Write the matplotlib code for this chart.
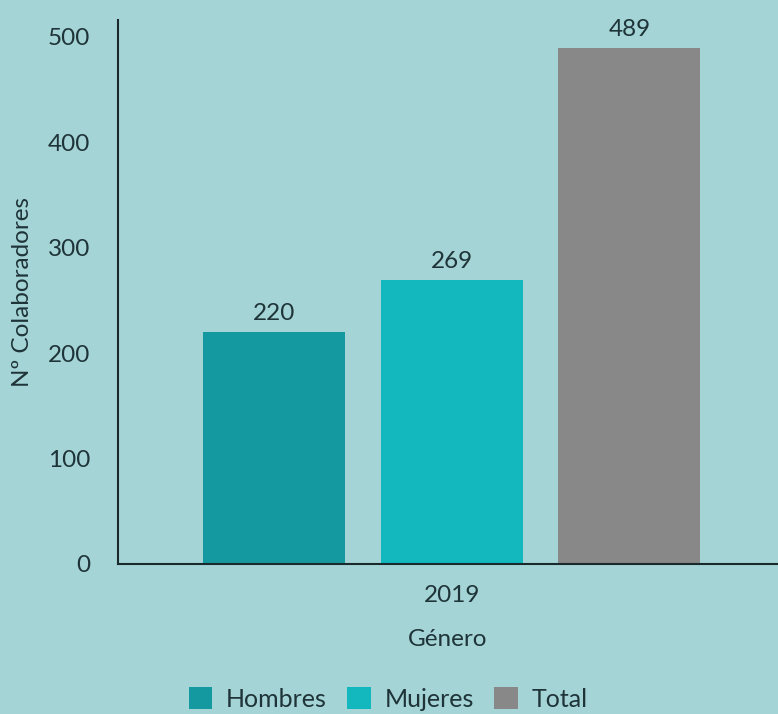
import numpy as np
import matplotlib
matplotlib.use('Agg')
import matplotlib.pyplot as plt

plt.rcParams['font.family'] = ['Lato', 'DejaVu Sans']

# Data
year_labels = ['2019']
series_names = ['Hombres', 'Mujeres', 'Total']
series_values = [220, 269, 489]
series_colors = ['#13999f', '#13b8bf', '#888888']

bg = '#a5d4d6'
text_color = '#1e3438'

fig = plt.figure(figsize=(7.78, 7.14), dpi=100, facecolor=bg)
ax = fig.add_axes([118 / 778, 1 - 564 / 714, 1 - 118 / 778, (564 - 20) / 714])
ax.set_facecolor(bg)

width = 0.8
offsets = np.array([-1, 0, 1])
for off, name, val, col in zip(offsets, series_names, series_values, series_colors):
    ax.bar(off, val, width=width, color=col, label=name)
    ax.text(off, val + 8, str(val), ha='center', va='bottom',
            fontsize=17.5, color=text_color)

ax.set_xlim(-1.88, 1.837)
ax.set_ylim(0, 516)
ax.set_yticks([0, 100, 200, 300, 400, 500])
ax.set_xticks([0])
ax.set_xticklabels(year_labels)
ax.tick_params(axis='both', length=0, labelsize=17.5, labelcolor=text_color)
ax.tick_params(axis='y', pad=20)
ax.tick_params(axis='x', pad=15)

for side in ['top', 'right']:
    ax.spines[side].set_visible(False)
for side in ['left', 'bottom']:
    ax.spines[side].set_color('#1a2a2c')
    ax.spines[side].set_linewidth(1.5)

ax.set_ylabel('Nº Colaboradores', fontsize=17.5, color=text_color, labelpad=11)
ax.set_xlabel('Género', fontsize=17.5, color=text_color, labelpad=17)

# legend sits at the very bottom edge, as in the reference
leg = fig.legend(loc='center', bbox_to_anchor=(388 / 778, 1 - 699 / 714), ncol=3,
                 frameon=False, fontsize=18, handlelength=0.95, handleheight=0.95,
                 handletextpad=0.55, columnspacing=0.8, borderpad=0.2)
for t in leg.get_texts():
    t.set_color(text_color)

fig.savefig('out.png', dpi=100, facecolor=bg)
